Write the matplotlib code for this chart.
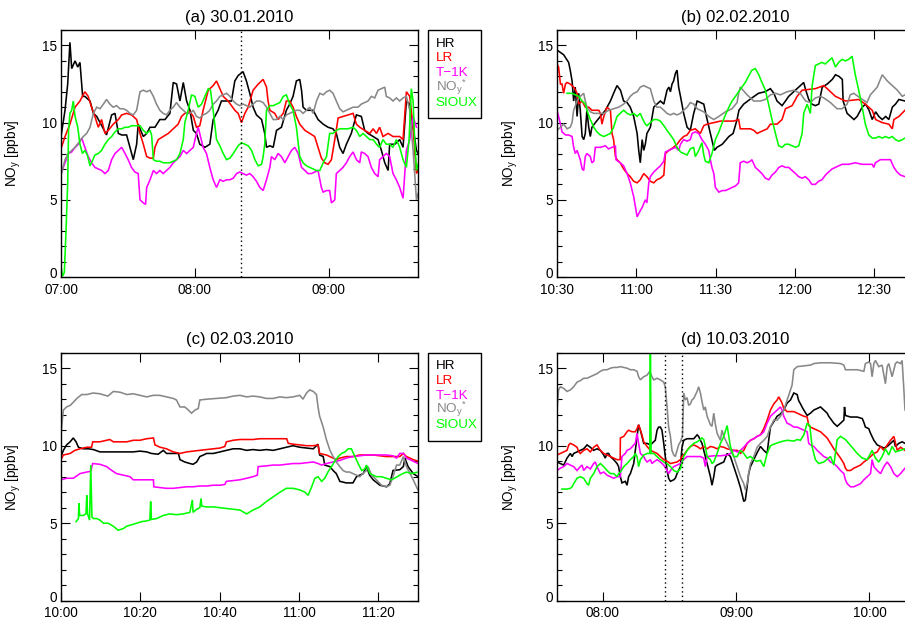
import matplotlib
matplotlib.use('Agg')
import matplotlib.pyplot as plt
from matplotlib.patches import Rectangle
from matplotlib.ticker import MultipleLocator, FuncFormatter
from matplotlib.transforms import ScaledTranslation

plt.rcParams['font.family'] = ['Liberation Sans', 'DejaVu Sans']
plt.rcParams['mathtext.fontset'] = 'custom'
plt.rcParams['mathtext.rm'] = 'Liberation Sans'
plt.rcParams['mathtext.it'] = 'Liberation Sans:italic'

# ---------------- legend / styling data ----------------
SERIES = ['HR', 'LR', 'T−1K', r'NO$_\mathregular{y}$$^\mathregular{*}$', 'SIOUX']
COLORS = ['#000000', '#ff0000', '#ff00ff', '#888888', '#00ff00']
YLABEL = r'NO$_\mathregular{y}$ [ppbv]'

# ---------------- panel (a) 30.01.2010, minutes after 07:00 ----------------
A_TITLE = '(a) 30.01.2010'
A_START = 7 * 60
A_END = 160
A_TICKS = [0, 60, 120]
A_DOTTED = [80.5]
A_HR = [(0, 9.1), (1.8, 10.8), (3, 12.5), (4.0, 15.2), (4.8, 13.5), (6.3, 14.0), (7.5, 13.6), (8.5, 13.9),
        (9.7, 11.7), (10.7, 11.7), (12.2, 11.5), (13, 11.4), (14.5, 10.6), (16, 10.4), (17.5, 10.0), (19, 9.6),
        (20.4, 9.2), (22.7, 10.5), (24.2, 10.6), (24.9, 10.0), (25.7, 9.3), (27.2, 9.2), (29.4, 9.2), (30.9, 8.4),
        (32.4, 7.6), (33.9, 8.6), (34.6, 9.9), (35.4, 9.6), (36.9, 9.1), (38.4, 9.3), (39.9, 9.7), (42.1, 9.7),
        (44.3, 10.2), (46.6, 10.2), (48.8, 10.6), (50.3, 12.6), (51.8, 12.5), (53.3, 11.4), (54.8, 12.6),
        (56.3, 11.4), (57.8, 10.8), (59.3, 9.5), (60.7, 9.3), (62.2, 8.6), (64.5, 8.4), (66.7, 8.6), (68.2, 10.2),
        (70.4, 10.8), (71.9, 11.4), (74.2, 11.4), (76.4, 11.4), (77.9, 12.7), (79.4, 13.05), (81.6, 13.3),
        (83.1, 12.7), (84.6, 11.9), (86.1, 11.0), (87.6, 10.5), (89.9, 10.2), (91.3, 9.3), (92.1, 8.4),
        (93.6, 8.5), (95.1, 8.4), (96.6, 9.5), (98.8, 9.7), (101, 10.8), (102.5, 11.2), (104, 11.7), (105.5, 12.7),
        (107, 12.8), (107.8, 12.1), (108.5, 11.0), (110, 10.8), (113, 10.8), (115.2, 10.2), (117.5, 9.9),
        (119.7, 9.7), (121.9, 9.6), (123.4, 9.3), (124.9, 8.4), (126.4, 8.0), (127.9, 8.6), (130.1, 9.3),
        (132.4, 10.5), (134.6, 10.4), (136.1, 9.5), (137.6, 9.3), (139.9, 9.1), (142.1, 8.9), (143.6, 8.2),
        (145.1, 7.4), (146.6, 6.9), (147.3, 8.6), (149.6, 8.6), (151.8, 8.9), (153.3, 8.4), (154.8, 11.4),
        (156.3, 11.2), (157.8, 9.7), (159.3, 8.2), (160, 8.0)]
A_LR = [(0, 8.3), (1.8, 9.1), (4.0, 9.9), (6.3, 11.0), (8.5, 11.4), (10.7, 12.0), (12.2, 11.7), (13.7, 11.0),
        (15.2, 10.4), (16.7, 9.7), (18.2, 10.2), (19.7, 9.3), (21.2, 9.5), (23.4, 9.9), (25.7, 10.2), (27.2, 10.5),
        (29.4, 10.6), (31.6, 10.5), (33.9, 10.2), (35.4, 9.3), (36.9, 8.6), (38.4, 7.8), (39.9, 7.7), (41.4, 7.7),
        (42.1, 8.4), (43.6, 8.9), (45.8, 9.1), (48.1, 9.3), (50.3, 9.6), (52.5, 9.9), (54.0, 10.4), (55.5, 10.6),
        (57.8, 10.7), (59.3, 10.4), (60.7, 9.7), (62.2, 9.8), (63.7, 10.8), (66, 12.1), (68.2, 12.4), (69.7, 12.7),
        (71.2, 12.2), (72.7, 11.7), (74.9, 11.4), (76.4, 11.1), (77.9, 10.8), (79.4, 10.6), (80.9, 10.0),
        (82.4, 10.6), (83.9, 11.0), (86.1, 12.1), (88.4, 12.5), (90.6, 12.8), (92.1, 12.3), (92.8, 11.4),
        (93.6, 10.8), (95.8, 10.6), (97.3, 10.2), (99.6, 10.6), (101, 11.4), (102.5, 11.4), (104, 11.0),
        (105.5, 10.4), (107, 9.9), (109.3, 9.5), (111.5, 9.3), (113.7, 9.1), (115.2, 8.4), (116.7, 7.7),
        (118.2, 7.4), (119.7, 7.3), (121.2, 7.6), (122.7, 8.9), (124.2, 10.3), (126.4, 10.4), (128.7, 10.5),
        (130.9, 10.6), (132.4, 9.9), (133.9, 9.7), (136.1, 9.5), (138.4, 9.3), (139.9, 9.6), (141.4, 9.3),
        (142.8, 9.7), (144.3, 9.1), (146.6, 9.3), (148.8, 9.1), (151.8, 9.1), (153.3, 8.9), (154.8, 12.0),
        (156.3, 11.7), (157.8, 9.7), (159.3, 6.7), (160, 6.9)]
A_T1K = [(0, 6.7), (1.8, 7.4), (3.3, 8.0), (4.8, 8.1), (6.3, 8.4), (7.8, 8.6), (9.3, 9.0), (10.7, 8.4),
         (12.2, 7.8), (13.7, 7.4), (15.2, 7.1), (16.7, 7.0), (18.2, 6.9), (19.7, 6.7), (21.2, 6.9), (22.7, 7.6),
         (24.2, 8.0), (25.7, 8.2), (27.2, 8.4), (28.7, 8.0), (30.1, 7.6), (31.6, 7.1), (33.1, 6.8), (34.6, 6.7),
         (35.4, 5.0), (36.9, 4.8), (37.9, 4.7), (38.4, 5.8), (39.9, 6.3), (41.4, 6.9), (42.8, 6.7), (44.3, 6.9),
         (45.8, 6.7), (47.3, 6.9), (48.8, 7.1), (50.3, 7.4), (51.8, 7.6), (53.3, 7.8), (54.8, 8.2), (56.3, 8.0),
         (57.8, 8.2), (59.3, 8.4), (60.7, 9.3), (61.5, 9.7), (63.7, 8.4), (65.2, 8.0), (66.7, 7.1), (68.2, 6.3),
         (69.7, 5.8), (71.2, 6.3), (72.7, 6.2), (74.2, 6.3), (75.7, 6.3), (77.2, 6.4), (78.7, 6.7), (80.1, 6.8),
         (81.6, 6.7), (83.1, 6.6), (84.6, 6.7), (86.1, 6.5), (87.6, 6.2), (89.1, 5.8), (90.6, 5.6), (92.1, 6.3),
         (93.6, 7.1), (94.3, 7.8), (95.8, 7.6), (97.3, 8.0), (98.8, 7.8), (100.3, 7.4), (101.8, 7.8), (103.3, 8.2),
         (104.8, 8.4), (106.3, 8.0), (107.8, 7.1), (109.3, 6.9), (110.7, 6.7), (112.2, 6.7), (113.7, 6.8),
         (115.2, 6.9), (116.7, 5.8), (117.5, 5.5), (119, 5.6), (120.4, 5.6), (121.2, 4.8), (122.7, 5.0),
         (123.4, 6.7), (124.9, 6.9), (126.4, 7.1), (127.9, 7.4), (129.4, 7.8), (130.9, 8.1), (132.4, 7.6),
         (133.9, 7.4), (134.6, 8.1), (136.1, 8.0), (137.6, 7.8), (139.1, 7.1), (140.6, 6.7), (142.1, 6.5),
         (142.8, 7.6), (144.3, 7.8), (145.8, 8.0), (147.3, 7.8), (148.8, 6.7), (150.3, 6.3), (151.8, 5.8),
         (153.3, 5.1), (154.8, 8.2), (156.3, 8.9), (157.8, 10.4), (159.3, 9.7)]
A_NOY = [(0, 6.6), (1.8, 7.6), (3.3, 8.0), (4.8, 8.2), (6.3, 8.4), (8.5, 8.8), (10, 9.1), (11.5, 9.3), (13, 9.7),
         (14.5, 10.6), (16, 11.0), (17.5, 10.9), (19, 11.2), (20.4, 11.5), (21.9, 11.2), (23.4, 11.0), (24.9, 11.1),
         (26.4, 10.9), (27.9, 10.9), (29.4, 10.8), (30.9, 10.6), (32.4, 10.5), (33.9, 10.8), (35.4, 12.0),
         (36.9, 12.1), (38.4, 12.0), (39.9, 12.1), (41.4, 11.7), (42.8, 11.2), (44.3, 10.8), (45.8, 10.6),
         (47.3, 10.5), (48.8, 10.8), (50.3, 11.0), (51.8, 11.3), (53.3, 11.0), (54.8, 10.8), (56.3, 10.6),
         (57.8, 10.6), (59.3, 10.8), (60.7, 10.4), (62.2, 10.3), (63.7, 10.5), (65.2, 10.6), (66.7, 10.8),
         (68.2, 11.2), (69.7, 11.4), (71.2, 11.7), (72.7, 11.8), (74.2, 11.9), (75.7, 11.7), (77.2, 11.4),
         (78.7, 11.2), (80.1, 11.1), (81.6, 11.2), (83.1, 11.1), (84.6, 11.0), (86.1, 11.2), (87.6, 11.4),
         (89.1, 11.4), (90.6, 11.3), (92.1, 11.0), (93.6, 10.6), (95.1, 10.2), (96.6, 10.2), (98.1, 10.4),
         (99.6, 10.2), (101, 10.5), (102.5, 10.6), (104, 10.7), (105.5, 10.8), (107, 10.8), (108.5, 10.6),
         (110, 10.8), (111.5, 11.0), (113, 10.6), (114.5, 11.4), (116, 11.9), (117.5, 11.8), (119, 12.0),
         (120.4, 12.1), (121.9, 11.9), (123.4, 11.4), (124.9, 10.9), (126.4, 10.7), (127.9, 10.8), (129.4, 10.9),
         (130.9, 11.0), (133.1, 11.0), (134.6, 11.2), (136.1, 11.3), (137.6, 11.4), (139.1, 11.7), (140.6, 11.6),
         (142.1, 12.1), (143.6, 12.2), (145.1, 12.3), (145.8, 11.7), (147.3, 11.6), (148.8, 11.4), (150.3, 11.6),
         (151.8, 11.4), (153.3, 11.6), (154.8, 11.7), (156.3, 10.8), (157.8, 8.2), (159.3, 5.0), (160, 5.4)]
A_SIOUX = [(0, 0.7), (0.7, 0.05), (1.5, 0.3), (2.2, 2.8), (3.0, 6.1), (3.4, 9.5), (4.0, 10.6), (4.8, 10.8),
           (5.5, 11.4), (6.3, 10.4), (7.5, 9.7), (8.5, 8.6), (9.6, 8.0), (10.7, 8.2), (11.8, 7.9), (13, 7.2),
           (14.0, 7.5), (15.2, 7.9), (16.7, 8.0), (18.2, 8.2), (19.7, 8.6), (21.2, 8.9), (22.7, 9.1), (24.2, 9.4),
           (25.7, 9.6), (27.2, 9.6), (28.7, 9.7), (30.1, 9.7), (31.6, 9.8), (33.9, 9.8), (35.4, 9.8), (36.9, 9.5),
           (38.4, 9.3), (39.9, 9.5), (40.6, 9.2), (41.4, 7.6), (42.8, 7.5), (44.3, 7.5), (45.8, 7.4), (47.3, 7.4),
           (48.8, 7.4), (50.3, 7.5), (51.8, 7.6), (53.3, 8.0), (54.8, 8.9), (55.5, 10.0), (57.0, 10.8),
           (58.5, 11.8), (60.0, 11.7), (61.5, 11.0), (63.0, 11.2), (64.5, 11.7), (66.0, 12.2), (67.0, 12.1),
           (68.2, 10.8), (69.7, 8.9), (71.2, 8.5), (72.7, 8.0), (74.2, 7.6), (75.7, 7.7), (77.2, 8.0), (79.4, 8.5),
           (80.9, 8.7), (82.4, 8.6), (83.9, 8.5), (85.4, 8.2), (86.9, 7.6), (88.4, 7.2), (89.9, 7.3), (90.6, 7.8),
           (91.3, 8.6), (92.1, 10.8), (93.6, 11.1), (95.1, 11.1), (96.6, 11.2), (98.1, 11.3), (99.6, 11.7),
           (101, 11.8), (102.5, 11.2), (104, 10.8), (105.5, 9.7), (107, 7.8), (108.5, 7.4), (110, 7.2),
           (111.5, 7.1), (113, 7.0), (114.5, 6.9), (116, 6.9), (117.5, 7.4), (119, 7.8), (120.4, 9.3), (121.9, 9.3),
           (123.4, 9.5), (124.9, 9.6), (126.4, 9.6), (128.7, 9.6), (130.9, 9.7), (132.4, 9.5), (133.9, 9.1),
           (135.4, 9.3), (136.9, 9.1), (138.4, 8.9), (139.9, 8.9), (141.4, 8.6), (142.8, 8.4), (144.3, 8.9),
           (145.8, 8.6), (147.3, 8.6), (148.8, 8.4), (150.3, 8.9), (151.8, 8.4), (153.3, 7.6), (154.8, 7.1),
           (156.0, 8.9), (157.0, 12.2), (157.8, 11.4), (158.5, 8.9), (159.3, 6.9), (160, 7.3)]

# ---------------- panel (b) 02.02.2010, minutes after 10:30 ----------------
B_TITLE = '(b) 02.02.2010'
B_START = 10 * 60 + 30
B_END = 131.6
B_TICKS = [0, 30, 60, 90, 120]
B_DOTTED = []
B_HR = [(0, 14.7), (2.5, 14.4), (4.4, 13.9), (5, 13.4), (5.7, 12.7), (6.3, 11.4), (6.9, 12.3), (7.6, 10.4),
        (8.2, 11.9), (8.8, 10.8), (9.5, 9.1), (10.1, 8.9), (10.7, 9.3), (11.3, 10.8), (12.0, 9.7), (12.6, 9.1),
        (13.2, 9.7), (14.5, 10.0), (16.4, 10.4), (18.3, 10.8), (20.2, 11.4), (21.4, 11.9), (22.7, 12.4),
        (24.0, 12.1), (25.2, 11.4), (26.5, 11.3), (27.7, 11.0), (29.0, 10.4), (30.3, 9.3), (30.9, 8.2),
        (31.5, 7.4), (32.2, 8.9), (32.8, 8.2), (33.4, 8.6), (34.0, 9.3), (35.3, 9.7), (36.6, 11.0), (37.8, 11.2),
        (39.1, 11.4), (40.4, 11.2), (41.6, 12.1), (42.3, 12.3), (42.9, 12.0), (43.5, 12.5), (44.1, 12.7),
        (44.8, 13.2), (45.4, 13.4), (46.0, 12.3), (46.7, 11.7), (47.9, 10.6), (49.2, 9.7), (50.4, 9.5),
        (51.7, 10.6), (53, 11.4), (55.5, 11.2), (56.5, 10.4), (58, 9.3), (59.5, 8.2), (60.5, 8.4), (62.5, 8.6),
        (65.0, 9.1), (66.6, 9.3), (68.1, 10.2), (68.8, 10.8), (70.6, 11.2), (73.7, 11.6), (76.2, 11.9),
        (78.7, 12.0), (80.7, 12.2), (82.0, 11.9), (83.2, 11.4), (85.1, 11.1), (86.4, 11.4), (87.6, 11.7),
        (89.5, 12.0), (91.4, 12.3), (93.3, 12.6), (93.9, 12.2), (95.2, 11.5), (96.4, 11.2), (97.7, 11.1),
        (99.0, 11.2), (100.3, 12.3), (102.2, 12.5), (104.1, 12.8), (105.3, 13.1), (106.6, 13.0), (107.9, 12.8),
        (108.2, 11.4), (109.7, 10.6), (111.0, 10.4), (112.3, 10.2), (113.5, 10.4), (115.4, 11.0), (116.7, 11.2),
        (118.0, 10.8), (119.2, 10.2), (120.5, 10.7), (121.7, 10.4), (123.0, 10.2), (124.3, 10.4), (125.5, 10.2),
        (126.8, 11.0), (128.0, 11.2), (129.3, 11.5), (131.6, 11.4)]
B_LR = [(0, 13.8), (0.6, 13.6), (1.3, 12.5), (1.9, 12.5), (2.5, 11.9), (3.2, 12.5), (3.8, 12.6), (5.0, 12.5),
        (6.3, 12.3), (7.6, 11.9), (8.2, 11.2), (9.5, 11.4), (10.7, 11.0), (12.0, 11.0), (13.2, 10.8), (14.5, 10.8),
        (15.8, 10.8), (16.4, 10.6), (17.0, 9.9), (17.7, 10.4), (18.9, 11.0), (20.2, 10.8), (20.8, 9.3),
        (21.4, 8.9), (22.1, 7.8), (22.7, 7.6), (23.9, 7.4), (25.2, 7.0), (26.5, 6.7), (27.7, 6.5), (29.0, 6.2),
        (30.3, 6.1), (31.5, 6.3), (32.8, 6.7), (34.0, 6.5), (35.3, 6.2), (36.6, 6.1), (37.8, 6.3), (39.1, 6.4),
        (40.4, 6.6), (41.0, 8.0), (42.3, 8.2), (44.1, 8.4), (45.4, 8.6), (46.7, 8.9), (47.9, 9.1), (49.2, 9.2),
        (50.4, 9.5), (52.3, 9.6), (54.2, 9.3), (55.5, 9.8), (56.7, 9.9), (59.3, 10.0), (61.8, 10.1), (64.3, 10.1),
        (66.8, 10.1), (68.7, 10.2), (69.3, 9.6), (71.2, 9.6), (73.1, 9.6), (74.4, 9.5), (75.7, 9.3), (76.9, 9.4),
        (78.2, 9.5), (79.5, 9.6), (80.7, 9.9), (83.2, 9.9), (85.1, 10.2), (86.4, 10.9), (88.9, 11.1),
        (90.2, 11.5), (90.8, 11.7), (92.7, 12.1), (97.7, 12.2), (100.9, 12.4), (102.8, 12.1), (105.3, 11.7),
        (109.1, 11.4), (114.1, 11.5), (116.6, 11.2), (119.2, 10.8), (120.5, 10.2), (123.0, 10.0), (125.5, 9.9),
        (126.8, 9.6), (127.4, 10.2), (129.3, 10.4), (131.6, 10.8)]
B_T1K = [(0, 10.8), (0.6, 10.4), (1.3, 9.9), (1.9, 9.4), (3.2, 9.2), (4.4, 9.2), (5.7, 9.1), (6.3, 8.4),
         (6.9, 8.0), (7.6, 8.2), (8.8, 7.6), (9.5, 7.0), (10.1, 6.9), (10.7, 7.8), (11.3, 8.0), (12.6, 7.8),
         (13.2, 7.4), (13.9, 7.5), (14.5, 8.4), (16.4, 8.4), (18.3, 8.5), (19.5, 8.3), (20.8, 8.4), (22.1, 8.5),
         (22.3, 7.6), (23.9, 7.4), (25.2, 7.2), (26.5, 6.7), (27.7, 6.1), (29.0, 5.2), (30.3, 3.9), (30.9, 4.1),
         (31.5, 4.3), (32.2, 4.5), (33.4, 5.0), (34.0, 4.8), (34.7, 6.1), (35.3, 6.5), (36.6, 6.8), (37.8, 7.0),
         (39.1, 7.2), (40.4, 7.5), (41.0, 8.1), (42.3, 8.2), (43.5, 8.3), (44.8, 8.4), (46.0, 8.2), (46.7, 8.6),
         (47.9, 8.9), (49.2, 8.8), (50.4, 8.9), (51.1, 9.3), (52.3, 9.4), (53.6, 9.3), (54.8, 8.9), (56.1, 8.6),
         (57.4, 8.2), (58.0, 7.6), (58.6, 7.1), (59.3, 6.7), (59.9, 5.8), (61.2, 5.5), (62.5, 5.6), (63.7, 5.6),
         (65.0, 5.7), (66.2, 5.8), (67.5, 5.9), (68.7, 6.1), (69.3, 7.4), (70.6, 7.5), (71.9, 7.4), (73.1, 7.5),
         (73.7, 7.6), (75.0, 7.1), (76.3, 6.9), (77.5, 6.7), (78.8, 6.4), (80.1, 6.3), (81.3, 6.6), (82.6, 6.8),
         (83.9, 7.1), (85.1, 7.2), (86.4, 7.1), (87.6, 7.1), (88.9, 6.9), (90.2, 6.7), (91.4, 6.5), (92.7, 6.4),
         (93.9, 6.5), (95.2, 6.3), (96.4, 6.0), (97.7, 6.0), (98.9, 6.2), (100.2, 6.3), (101.5, 6.6), (102.7, 6.8),
         (104.0, 7.0), (105.3, 7.1), (106.5, 7.2), (107.8, 7.3), (110.3, 7.3), (112.8, 7.4), (115.4, 7.3),
         (117.9, 7.3), (119.2, 7.3), (119.8, 7.1), (120.4, 7.4), (122.3, 7.6), (124.2, 7.6), (126.1, 7.6),
         (127.4, 7.1), (128.6, 6.8), (129.9, 6.6), (131.6, 6.5)]
B_NOY = [(0, 9.5), (1.3, 9.7), (2.5, 9.9), (3.8, 9.6), (5.0, 9.7), (5.7, 10.0), (6.3, 10.8), (7.6, 11.4),
         (8.8, 11.7), (10.1, 11.9), (10.7, 11.4), (11.3, 11.0), (12.6, 10.7), (13.9, 10.6), (15.8, 10.6),
         (17.7, 10.6), (19.5, 10.8), (21.4, 10.9), (23.3, 11.0), (25.2, 11.2), (26.5, 11.4), (27.7, 11.7),
         (29.0, 11.9), (30.3, 12.0), (31.5, 12.3), (32.8, 12.4), (34.0, 12.3), (35.3, 12.2), (36.6, 11.4),
         (37.8, 11.0), (39.1, 11.0), (40.4, 10.8), (41.6, 10.6), (42.9, 10.5), (44.1, 10.6), (45.4, 10.5),
         (46.7, 10.6), (47.9, 10.8), (49.2, 11.0), (50.4, 11.3), (51.7, 11.2), (53, 10.9), (55.5, 10.7),
         (57.4, 10.4), (59.3, 10.2), (61.2, 10.4), (63.7, 10.7), (66.2, 10.9), (68.1, 11.3), (68.7, 11.9),
         (69.3, 12.3), (71.9, 11.8), (74.4, 11.4), (76.9, 11.4), (78.8, 11.5), (80.7, 11.8), (82.6, 11.9),
         (84.5, 11.8), (87.0, 12.0), (89.5, 12.1), (92.0, 11.9), (94.0, 11.4), (95.8, 11.3), (97.7, 11.6),
         (99.6, 11.7), (100.9, 11.6), (103.4, 11.3), (105.9, 10.9), (107.8, 10.9), (109.7, 11.2), (110.9, 11.8),
         (112.2, 11.9), (114.7, 11.6), (117.2, 11.3), (118.5, 11.8), (121.1, 12.3), (123.0, 13.1), (124.9, 12.7),
         (126.8, 12.4), (128.7, 12.1), (130.6, 11.7), (131.6, 11.8)]
B_SIOUX = [(3.8, 11.9), (5.7, 11.9), (6.9, 11.8), (8.2, 11.7), (9.5, 11.4), (10.7, 11.2), (11.3, 10.8),
           (12.6, 10.2), (13.9, 9.7), (15.1, 9.4), (16.4, 9.2), (17.7, 9.1), (18.9, 9.2), (20.2, 9.3), (21.4, 9.7),
           (22.7, 10.4), (23.9, 10.6), (25.2, 10.8), (26.5, 10.6), (27.7, 10.5), (29.0, 10.6), (30.3, 10.4),
           (30.9, 10.5), (31.5, 10.6), (32.2, 10.3), (33.4, 9.9), (34.0, 9.8), (35.3, 10.0), (36.6, 10.2),
           (37.8, 10.2), (39.1, 10.1), (40.4, 9.8), (41.6, 9.5), (42.9, 9.2), (44.1, 8.9), (45.4, 8.4), (46.7, 8.1),
           (47.9, 8.0), (49.2, 7.9), (50.4, 8.3), (51.7, 8.4), (52.3, 7.8), (53.6, 8.2), (54.8, 8.7), (55.5, 7.9),
           (56.1, 7.5), (57.4, 7.4), (58.6, 8.0), (59.9, 8.9), (61.2, 9.4), (62.5, 10.0), (63.7, 10.5),
           (65.0, 11.0), (66.2, 11.4), (67.5, 11.7), (68.7, 12.0), (69.9, 12.3), (71.2, 12.6), (72.4, 13.0),
           (73.7, 13.4), (75.0, 13.5), (76.3, 13.1), (77.5, 12.6), (78.8, 12.1), (80.0, 11.2), (81.3, 10.2),
           (82.6, 9.3), (83.8, 8.5), (85.1, 8.4), (86.4, 8.6), (87.6, 8.6), (88.9, 8.5), (90.2, 8.4), (91.4, 8.5),
           (92.7, 9.3), (93.3, 10.6), (94.6, 11.2), (95.8, 10.6), (96.5, 12.4), (97.7, 13.7), (98.9, 13.8),
           (100.2, 13.9), (101.5, 13.8), (102.7, 14.0), (104.0, 14.2), (105.3, 13.6), (106.5, 13.9),
           (107.8, 14.1), (109.1, 14.0), (110.3, 14.1), (111.6, 14.3), (112.8, 13.1), (114.1, 12.1),
           (115.4, 11.0), (116.6, 9.9), (117.9, 9.2), (119.2, 9.0), (120.4, 9.0), (121.7, 9.1), (123.0, 9.0),
           (124.2, 9.1), (125.5, 9.0), (126.8, 9.1), (128.0, 8.9), (129.3, 8.8), (130.6, 8.9), (131.6, 9.0)]

# ---------------- panel (c) 02.03.2010, minutes after 10:00 ----------------
C_TITLE = '(c) 02.03.2010'
C_START = 10 * 60
C_END = 90
C_TICKS = [0, 20, 40, 60, 80]
C_DOTTED = []
C_HR = [(0, 9.3), (0.6, 9.7), (1.4, 10.05), (2.3, 10.25), (3.1, 10.5), (3.8, 10.25), (4.4, 9.9), (5.6, 9.8),
        (6.9, 9.8), (8.2, 9.75), (9.8, 9.6), (11.5, 9.6), (13.2, 9.6), (14.9, 9.6), (16.6, 9.6), (18.2, 9.6),
        (19.9, 9.65), (21.6, 9.6), (22.8, 9.5), (24.5, 9.45), (25.8, 9.7), (26.6, 9.5), (28.3, 9.5), (29.6, 9.5),
        (30.0, 9.1), (31.2, 8.95), (32.5, 8.85), (33.3, 8.8), (34.2, 8.95), (35.0, 9.3), (35.9, 9.4), (36.7, 9.5),
        (38.4, 9.5), (40.1, 9.6), (41.7, 9.7), (43.4, 9.8), (45.1, 9.8), (46.8, 9.7), (48.4, 9.75), (50.1, 9.7),
        (51.8, 9.75), (53.5, 9.7), (55.2, 9.8), (56.8, 9.9), (58.5, 10.0), (60.2, 9.9), (61.9, 9.85), (63.6, 9.8),
        (64.8, 10.1), (65.2, 9.4), (66.1, 9.3), (66.5, 8.75), (67.8, 8.65), (68.6, 8.4), (69.4, 8.2), (70.3, 7.7),
        (71.9, 7.6), (73.6, 7.6), (74.5, 8.0), (75.3, 8.1), (76.2, 8.2), (77.0, 8.65), (77.8, 8.1), (78.7, 7.8),
        (80.4, 7.45), (82.1, 7.35), (82.9, 7.55), (83.7, 8.4), (85.4, 8.45), (86.3, 8.65), (86.7, 9.2),
        (87.5, 8.65), (88.8, 8.2), (90, 8.0)]
C_LR = [(0, 9.1), (0.6, 9.4), (2.3, 9.5), (3.5, 9.7), (4.8, 9.8), (6.5, 9.9), (7.7, 9.9), (8.0, 10.25),
        (9.8, 10.25), (11.5, 10.35), (12.3, 10.4), (13.2, 10.25), (14.9, 10.25), (16.6, 10.25), (18.2, 10.35),
        (19.9, 10.35), (21.6, 10.45), (23.3, 10.5), (23.7, 10.05), (25.0, 9.9), (26.6, 9.8), (28.3, 9.6),
        (30.0, 9.5), (31.7, 9.6), (33.3, 9.65), (35.0, 9.7), (36.7, 9.75), (38.4, 9.8), (40.1, 9.85),
        (41.3, 9.95), (41.7, 10.25), (43.4, 10.35), (45.1, 10.4), (46.8, 10.4), (48.4, 10.4), (50.1, 10.45),
        (51.8, 10.45), (53.5, 10.45), (55.2, 10.45), (56.9, 10.45), (57.3, 10.15), (58.5, 10.1), (60.2, 10.05),
        (61.9, 10.0), (63.6, 10.0), (64.8, 10.05), (65.2, 9.5), (66.9, 9.4), (68.6, 9.2), (69.4, 9.1),
        (70.3, 9.2), (71.9, 9.3), (73.6, 9.3), (75.3, 9.4), (77.0, 9.4), (78.7, 9.4), (80.4, 9.35), (82.1, 9.3),
        (83.7, 9.3), (85.4, 9.3), (86.3, 9.5), (87.1, 9.3), (88.8, 9.1), (90, 9.0)]
C_T1K = [(0, 7.8), (1.4, 7.9), (3.1, 7.9), (4.8, 8.2), (6.5, 8.3), (7.5, 8.35), (8.0, 8.85), (9.8, 8.8),
         (11.5, 8.65), (12.8, 8.4), (14.0, 8.2), (15.7, 8.1), (17.4, 8.0), (18.2, 7.8), (19.9, 7.8), (21.6, 7.8),
         (23.3, 7.8), (23.4, 7.35), (24.9, 7.3), (26.6, 7.25), (28.3, 7.25), (30.0, 7.3), (31.7, 7.35),
         (33.3, 7.35), (35.0, 7.4), (36.7, 7.4), (38.4, 7.45), (40.1, 7.45), (41.3, 7.5), (41.7, 7.7),
         (43.4, 7.75), (45.1, 7.8), (46.8, 7.9), (48.4, 8.0), (49.5, 8.1), (49.7, 8.65), (51.8, 8.7),
         (53.5, 8.75), (55.2, 8.75), (56.8, 8.8), (58.5, 8.85), (60.2, 8.85), (61.9, 8.9), (63.6, 8.95),
         (64.8, 8.85), (65.7, 8.75), (66.9, 8.85), (68.6, 8.95), (70.3, 9.05), (71.9, 9.2), (73.6, 9.3),
         (75.3, 9.35), (77.0, 9.4), (78.7, 9.4), (80.4, 9.4), (82.1, 9.4), (83.7, 9.35), (84.6, 9.2), (85.4, 9.5),
         (86.3, 9.5), (87.1, 9.2), (88.8, 9.0), (90, 8.85)]
C_NOY = [(0, 10.8), (0.6, 12.3), (1.4, 12.5), (2.3, 12.6), (3.1, 12.8), (4.0, 13.05), (5.2, 13.3), (6.5, 13.3),
         (8.1, 13.4), (9.8, 13.35), (11.8, 13.2), (13.2, 13.5), (14.9, 13.45), (16.6, 13.3), (18.2, 13.35),
         (19.9, 13.25), (21.6, 13.15), (23.3, 13.25), (24.9, 13.25), (26.6, 13.15), (28.3, 13.05), (29.1, 12.95),
         (30.0, 12.5), (31.2, 12.5), (32.1, 12.3), (32.9, 12.1), (33.8, 12.3), (34.6, 12.4), (35.0, 12.95),
         (36.7, 13.0), (39.2, 13.05), (41.7, 13.1), (43.4, 13.2), (45.1, 13.25), (46.8, 13.15), (48.4, 13.2),
         (50.1, 13.15), (51.8, 13.05), (53.5, 13.05), (55.2, 13.15), (56.8, 13.1), (58.5, 13.15), (60.2, 13.25),
         (61.0, 13.0), (61.9, 13.4), (62.7, 13.6), (63.6, 13.5), (64.4, 13.3), (64.8, 12.5), (65.2, 11.9),
         (66.1, 11.2), (66.9, 10.4), (67.8, 9.7), (68.6, 9.3), (69.4, 8.95), (70.3, 8.65), (71.1, 8.4),
         (71.9, 8.3), (72.8, 8.3), (73.6, 8.2), (74.5, 8.1), (75.3, 8.0), (76.1, 8.2), (77.0, 8.4), (77.4, 8.65),
         (78.3, 8.1), (79.5, 7.8), (80.8, 7.45), (82.0, 7.35), (82.9, 7.45), (83.7, 8.0), (84.6, 8.75),
         (85.4, 8.75), (86.3, 9.3), (87.1, 8.65), (88.0, 8.2), (88.8, 7.8), (89.6, 7.35), (90, 7.15)]
C_SIOUX = [(3.8, 5.1), (4.4, 5.3), (4.5, 6.3), (4.7, 5.5), (5.6, 5.5), (6.3, 5.6), (6.5, 6.8), (6.7, 5.6),
           (7.2, 5.2), (7.5, 8.75), (7.8, 5.4), (8.2, 5.3), (9.0, 5.3), (9.8, 5.2), (10.7, 5.0), (11.9, 5.0),
           (13.2, 4.8), (14.4, 4.55), (15.7, 4.65), (16.5, 4.8), (17.8, 4.9), (19.1, 5.0), (20.3, 5.1),
           (21.6, 5.15), (22.4, 5.2), (22.6, 6.4), (22.8, 5.25), (24.1, 5.3), (25.8, 5.5), (27.4, 5.6),
           (29.1, 5.55), (30.8, 5.6), (32.5, 5.7), (33.1, 6.5), (33.3, 5.7), (34.2, 5.9), (35.0, 6.0), (35.3, 6.6),
           (35.5, 6.1), (36.7, 6.05), (38.4, 6.05), (40.1, 6.0), (41.7, 5.95), (43.4, 5.9), (45.1, 5.85),
           (46.8, 5.6), (48.4, 5.85), (50.1, 6.05), (51.8, 6.4), (53.5, 6.7), (55.2, 7.0), (56.8, 7.25),
           (58.5, 7.25), (60.2, 7.15), (61.5, 7.0), (62.3, 6.8), (63.2, 7.35), (64.0, 7.9), (64.8, 8.0),
           (65.7, 7.7), (66.5, 7.9), (67.4, 8.35), (68.2, 8.65), (69.0, 9.0), (69.9, 9.3), (70.7, 9.5),
           (71.6, 9.6), (72.4, 9.8), (73.2, 9.8), (74.1, 9.3), (74.9, 8.85), (75.8, 8.4), (76.6, 8.5), (77.0, 8.75),
           (77.9, 8.2), (78.7, 8.1), (79.5, 8.0), (80.8, 8.0), (82.0, 7.9), (83.3, 7.8), (84.1, 7.9), (85.4, 8.1),
           (86.2, 8.2), (87.1, 8.3), (88.3, 8.2), (90, 8.3)]

# ---------------- panel (d) 10.03.2010, minutes after 08:00 ----------------
D_TITLE = '(d) 10.03.2010'
D_START = 8 * 60
D_BEGIN = -20.5
D_END = 136.0
D_TICKS = [0, 60, 120]
D_DOTTED = [28.0, 35.8]
D_HR = [(-20.5, 8.95), (-19.0, 8.85), (-17.5, 8.75), (-16.0, 9.2), (-14.5, 9.5), (-13.7, 9.3), (-13.0, 9.5),
        (-11.5, 9.6), (-10.0, 9.7), (-8.5, 9.8), (-7.0, 10.05), (-5.5, 9.9), (-4.0, 9.7), (-2.5, 9.8),
        (-1.0, 9.7), (0.5, 9.4), (1.2, 9.2), (2.0, 9.5), (2.7, 9.5), (3.5, 9.3), (5.0, 9.1), (6.5, 8.85),
        (7.2, 8.65), (8.0, 8.0), (8.7, 7.6), (10.2, 7.7), (11.0, 7.45), (11.7, 8.0), (12.5, 8.2), (14.0, 8.85),
        (15.5, 10.6), (16.2, 11.35), (17.0, 11.0), (17.7, 10.6), (18.5, 10.15), (20.0, 10.15), (21.5, 10.05),
        (23.0, 10.25), (23.7, 10.35), (24.5, 11.0), (25.2, 11.2), (26.0, 11.2), (26.7, 11.0), (27.5, 10.15),
        (28.2, 9.3), (29.0, 8.4), (29.7, 7.9), (30.5, 7.7), (32.0, 7.8), (32.7, 7.9), (33.5, 8.2), (35.0, 8.65),
        (35.7, 9.9), (36.5, 10.35), (38.0, 10.45), (39.5, 10.45), (41.0, 10.45), (42.5, 10.7), (43.2, 10.6),
        (44.0, 10.35), (44.7, 10.15), (45.5, 9.7), (47.0, 8.85), (48.5, 8.0), (49.2, 7.45), (50.0, 8.0),
        (50.7, 8.65), (51.5, 8.75), (53.0, 8.85), (54.5, 8.95), (56.0, 9.5), (57.5, 9.3), (59.0, 8.65),
        (60.5, 8.0), (62.0, 7.3), (63.5, 6.4), (64.2, 6.5), (65.0, 7.35), (65.7, 8.2), (66.5, 8.65), (68.0, 9.1),
        (69.5, 9.55), (71.0, 9.95), (72.5, 9.7), (74.0, 9.5), (74.7, 10.35), (75.5, 11.2), (77.0, 11.55),
        (78.5, 11.9), (80.0, 12.05), (81.5, 12.3), (83.0, 12.75), (84.5, 12.95), (86.0, 13.4), (86.7, 13.35),
        (87.5, 13.3), (88.2, 12.9), (89.0, 12.7), (89.7, 12.5), (90.5, 12.3), (92.0, 11.95), (93.5, 12.1),
        (95.0, 12.3), (96.5, 12.4), (98.0, 12.5), (99.5, 12.3), (101.0, 12.1), (101.7, 11.9), (104.0, 11.45),
        (105.5, 11.25), (107.0, 11.45), (108.5, 11.65), (108.8, 12.5), (109.2, 11.95), (111.5, 11.85),
        (114.5, 11.85), (116.8, 11.75), (117.5, 11.5), (118.2, 11.2), (119.7, 11.1), (120.5, 10.8),
        (122.0, 10.35), (123.5, 10.05), (125.0, 9.95), (126.5, 9.85), (128.0, 9.95), (129.5, 10.15),
        (131.0, 10.35), (131.7, 9.95), (133.2, 10.15), (134.7, 10.25), (136.0, 10.15)]
D_LR = [(-20.5, 9.4), (-19.0, 9.5), (-17.5, 9.6), (-16.0, 9.7), (-15.2, 10.05), (-14.5, 10.15), (-13.0, 10.05),
        (-11.5, 9.9), (-10.7, 9.6), (-10.0, 9.5), (-8.5, 9.7), (-7.0, 9.8), (-5.5, 9.6), (-4.0, 9.9),
        (-2.5, 10.05), (-1.0, 9.7), (0.5, 9.5), (2.0, 9.4), (3.5, 9.3), (5.0, 9.2), (6.5, 9.1), (7.9, 9.1),
        (8.0, 10.5), (9.5, 10.6), (11.0, 10.9), (11.7, 11.0), (13.2, 10.9), (14.7, 10.9), (15.5, 11.1),
        (16.2, 11.35), (17.0, 11.0), (17.7, 10.7), (18.5, 10.25), (20.0, 9.95), (21.5, 9.7), (23.0, 9.6),
        (24.5, 9.5), (26.0, 9.3), (27.5, 9.1), (29.0, 9.0), (30.5, 8.85), (32.0, 8.9), (33.5, 8.95), (35.0, 9.1),
        (35.7, 9.3), (36.5, 9.4), (38.0, 9.7), (39.5, 9.95), (41.0, 10.05), (42.5, 9.95), (44.0, 9.8),
        (45.5, 9.95), (47.0, 9.8), (48.5, 9.95), (50.0, 9.9), (51.5, 9.8), (53.0, 9.95), (54.5, 9.9), (56.0, 9.8),
        (57.5, 9.75), (59.0, 9.7), (60.5, 9.7), (62.0, 9.5), (63.5, 9.7), (65.0, 10.15), (66.5, 10.35),
        (68.0, 10.45), (69.5, 10.6), (71.0, 10.7), (72.5, 11.1), (74.0, 11.65), (75.5, 12.3), (77.0, 12.7),
        (78.5, 12.95), (79.2, 13.15), (80.0, 12.95), (80.7, 12.75), (81.5, 12.4), (83.0, 12.2), (84.5, 12.2),
        (86.0, 12.2), (87.5, 12.1), (89.0, 12.0), (90.5, 11.9), (92.0, 11.85), (92.7, 11.3), (93.5, 11.2),
        (95.0, 11.1), (96.5, 11.0), (98.0, 10.9), (99.5, 10.7), (101.0, 10.5), (102.5, 10.15), (104.0, 9.8),
        (105.5, 9.5), (107.0, 9.2), (108.5, 8.85), (109.2, 8.55), (110.0, 8.4), (111.5, 8.4), (113.0, 8.55),
        (114.5, 8.65), (116.0, 8.75), (117.5, 8.95), (119.0, 9.1), (120.5, 9.3), (122.0, 9.5), (123.5, 9.6),
        (125.0, 9.95), (126.5, 9.7), (128.0, 10.05), (129.5, 10.35), (131.0, 10.6), (132.5, 9.7), (134.0, 9.9),
        (136.0, 9.7)]
D_T1K = [(-20.5, 8.4), (-19.0, 8.55), (-17.5, 8.65), (-16.0, 8.85), (-14.5, 8.75), (-13.0, 8.65), (-11.5, 8.4),
         (-10.0, 8.65), (-9.2, 8.75), (-8.5, 8.4), (-7.0, 8.65), (-5.5, 8.5), (-4.0, 8.85), (-3.3, 8.95),
         (-2.5, 8.65), (-1.0, 8.2), (0.5, 8.3), (2.0, 8.1), (3.5, 8.0), (5.0, 7.9), (6.5, 8.0), (8.0, 8.0),
         (8.7, 9.3), (10.2, 9.5), (11.0, 9.7), (12.5, 9.8), (14.0, 10.05), (14.7, 10.15), (15.5, 10.8),
         (16.2, 10.15), (17.0, 9.5), (18.5, 9.3), (19.2, 9.1), (20.0, 8.95), (21.5, 9.1), (22.2, 8.85),
         (23.0, 8.95), (24.5, 9.1), (26.0, 8.95), (27.5, 8.75), (29.0, 8.4), (29.7, 8.2), (30.5, 8.4),
         (32.0, 8.65), (33.5, 8.75), (35.0, 8.85), (36.5, 9.1), (38.0, 9.3), (41.0, 9.3), (44.0, 9.3),
         (45.5, 9.2), (46.2, 8.65), (47.0, 9.3), (50.0, 9.35), (53.0, 9.35), (56.0, 9.4), (57.5, 9.5),
         (59.0, 9.7), (60.5, 9.6), (62.0, 9.7), (63.5, 9.9), (65.0, 10.15), (66.5, 10.35), (68.0, 10.45),
         (69.5, 10.6), (71.0, 10.7), (72.5, 10.9), (74.0, 11.45), (75.5, 11.9), (77.0, 12.1), (78.5, 12.3),
         (80.0, 12.5), (80.7, 12.3), (81.5, 11.9), (83.0, 11.45), (84.5, 11.35), (86.0, 11.2), (87.5, 11.2),
         (89.0, 11.1), (90.5, 11.0), (92.0, 10.9), (92.7, 10.15), (93.5, 10.05), (95.0, 9.95), (96.5, 9.7),
         (98.0, 9.5), (99.5, 9.3), (101.0, 9.2), (102.5, 8.95), (104.0, 8.85), (105.5, 8.65), (107.0, 8.4),
         (108.5, 8.2), (109.2, 7.8), (110.0, 7.55), (111.5, 7.35), (113.0, 7.35), (114.5, 7.45), (116.0, 7.55),
         (117.5, 7.8), (119.0, 8.0), (120.5, 8.2), (121.2, 9.1), (122.0, 8.65), (123.5, 8.4), (125.0, 8.2),
         (126.5, 8.65), (128.0, 8.95), (129.5, 8.65), (131.0, 8.2), (132.5, 8.0), (134.0, 8.2), (136.0, 8.55)]
D_NOY = [(-20.5, 12.3), (-19.8, 13.6), (-19.0, 13.8), (-17.5, 13.7), (-16.0, 13.5), (-14.5, 13.6), (-13.0, 13.8),
         (-11.5, 14.1), (-10.0, 14.2), (-8.5, 14.35), (-7.0, 14.35), (-5.5, 14.45), (-4.0, 14.55), (-2.5, 14.65),
         (-1.0, 14.8), (0.5, 14.9), (2.0, 14.9), (3.5, 15.0), (5.0, 15.05), (6.5, 15.05), (8.0, 15.1),
         (9.5, 15.05), (11.0, 15.0), (12.5, 14.9), (14.0, 14.9), (15.5, 14.8), (16.2, 14.45), (17.0, 14.25),
         (18.5, 14.45), (20.0, 14.55), (21.2, 14.8), (22.2, 14.45), (23.0, 14.25), (24.5, 14.35), (26.0, 14.25),
         (27.5, 14.1), (28.2, 13.8), (29.0, 12.5), (29.7, 11.2), (30.5, 10.6), (31.2, 9.7), (32.0, 9.4),
         (32.7, 9.3), (33.5, 9.7), (34.2, 10.05), (35.0, 10.25), (35.9, 10.6), (36.5, 13.4), (37.2, 12.95),
         (38.0, 13.1), (38.7, 12.6), (39.5, 12.7), (40.2, 12.95), (41.0, 13.05), (42.5, 13.5), (43.2, 13.8),
         (44.0, 13.4), (44.7, 12.85), (45.5, 12.3), (46.2, 12.5), (47.0, 11.9), (47.7, 11.65), (48.5, 11.35),
         (49.2, 11.25), (50.0, 12.1), (50.7, 11.4), (51.5, 10.8), (53.0, 10.35), (53.7, 11.0), (54.5, 10.6),
         (56.0, 10.15), (57.5, 9.7), (59.0, 9.3), (60.5, 8.65), (62.0, 8.0), (63.5, 7.55), (64.2, 7.15),
         (65.0, 7.55), (65.7, 8.2), (66.5, 8.85), (68.0, 9.3), (69.5, 9.9), (71.0, 10.15), (72.5, 10.35),
         (74.0, 10.6), (75.5, 11.2), (77.0, 11.65), (78.5, 11.65), (80.0, 11.9), (81.5, 12.3), (83.0, 12.95),
         (84.5, 13.6), (85.2, 13.9), (86.0, 14.9), (87.5, 15.1), (90.5, 15.15), (93.5, 15.2), (95.0, 15.3),
         (98.0, 15.35), (102.5, 15.35), (107.0, 15.3), (108.5, 15.2), (109.2, 14.9), (111.5, 14.9),
         (114.5, 14.9), (117.5, 14.8), (118.2, 15.3), (119.7, 15.4), (120.5, 15.3), (121.2, 14.45),
         (122.0, 15.3), (122.7, 15.5), (124.2, 15.1), (125.7, 15.2), (127.2, 14.0), (128.0, 15.1), (128.7, 15.3),
         (130.2, 14.45), (131.7, 15.3), (132.5, 15.4), (134.0, 15.3), (134.7, 15.5), (135.5, 13.6),
         (136.0, 12.3)]
D_SIOUX = [(-18.3, 7.2), (-16.0, 7.2), (-14.5, 7.25), (-13.7, 7.35), (-13.0, 7.55), (-11.5, 7.9), (-10.0, 8.0),
           (-8.5, 7.9), (-7.0, 7.55), (-6.3, 7.45), (-5.5, 7.9), (-4.0, 8.2), (-2.5, 8.65), (-1.0, 8.85),
           (0.5, 8.65), (2.0, 8.4), (2.7, 8.3), (3.5, 8.2), (5.0, 8.2), (6.5, 8.0), (7.2, 8.2), (8.0, 8.3),
           (9.5, 8.65), (11.0, 8.85), (12.5, 9.1), (14.0, 9.3), (14.7, 9.5), (15.5, 9.3), (16.2, 8.65), (17.0, 9.1),
           (18.5, 9.4), (20.0, 9.5), (21.2, 9.5), (21.5, 17.0), (21.8, 9.5), (23.0, 9.5), (24.5, 9.3), (26.0, 9.1),
           (27.5, 8.95), (29.0, 8.85), (30.5, 8.65), (32.0, 8.4), (33.5, 8.3), (35.0, 8.5), (36.5, 9.3),
           (38.0, 9.7), (39.5, 9.95), (41.0, 10.15), (42.5, 10.25), (44.0, 10.4), (44.7, 10.5), (45.5, 10.4),
           (46.2, 9.95), (47.0, 9.3), (48.5, 9.1), (49.2, 8.85), (50.0, 8.95), (51.5, 9.5), (53.0, 10.15),
           (54.5, 10.6), (56.0, 11.3), (57.5, 9.95), (59.0, 9.3), (60.5, 9.3), (62.0, 9.7), (63.5, 9.5),
           (65.0, 9.2), (66.5, 9.3), (69.0, 9.0), (71.0, 9.05), (72.5, 8.65), (74.0, 9.5), (75.5, 10.0),
           (77.0, 10.1), (80.0, 10.25), (83.0, 10.35), (86.0, 10.3), (87.5, 10.4), (89.0, 10.35), (90.5, 10.7),
           (92.0, 11.45), (93.2, 11.3), (94.2, 9.95), (95.7, 9.1), (97.2, 8.85), (99.5, 8.95), (102.5, 9.3),
           (104.0, 8.75), (105.5, 10.4), (107.0, 10.6), (109.2, 10.4), (112.2, 9.9), (114.5, 9.5), (116.8, 9.2),
           (119.0, 9.1), (120.5, 9.5), (121.2, 9.7), (122.7, 9.2), (124.2, 8.95), (125.7, 9.3), (127.2, 9.8),
           (128.7, 9.4), (130.2, 9.95), (131.7, 9.6), (134.0, 9.7), (136.0, 9.8)]

Y_MAX = 16
Y_TICKS = [0, 5, 10, 15]

PANELS = [
    dict(title=A_TITLE, start=A_START, begin=0, end=A_END, ticks=A_TICKS, dotted=A_DOTTED,
         series=[A_HR, A_LR, A_T1K, A_NOY, A_SIOUX], rect=[61, 30, 357, 247], right=True, tx=0.5),
    dict(title=B_TITLE, start=B_START, begin=0, end=B_END, ticks=B_TICKS, dotted=B_DOTTED,
         series=[B_HR, B_LR, B_T1K, B_NOY, B_SIOUX], rect=[557, 30, 348, 247], right=False, tx=0.512),
    dict(title=C_TITLE, start=C_START, begin=0, end=C_END, ticks=C_TICKS, dotted=C_DOTTED,
         series=[C_HR, C_LR, C_T1K, C_NOY, C_SIOUX], rect=[61, 352.7, 357, 248], right=True, tx=0.5),
    dict(title=D_TITLE, start=D_START, begin=D_BEGIN, end=D_END, ticks=D_TICKS, dotted=D_DOTTED,
         series=[D_HR, D_LR, D_T1K, D_NOY, D_SIOUX], rect=[557, 352.7, 348, 248], right=False, tx=0.512),
]

W, H = 905, 620
fig = plt.figure(figsize=(W / 100, H / 100), dpi=100)


def hhmm(x, pos=None):
    m = int(round(x)) % (24 * 60)
    return f'{m // 60:02d}:{m % 60:02d}'


for p in PANELS:
    l, t, w, h = p['rect']
    ax = fig.add_axes([l / W, 1 - (t + h) / H, w / W, h / H])
    s0 = p['start']
    for data, col in zip(p['series'], COLORS):
        xs = [s0 + d[0] for d in data]
        ys = [d[1] for d in data]
        ax.plot(xs, ys, color=col, lw=1.15, solid_joinstyle='miter')
    for dx in p['dotted']:
        ax.axvline(s0 + dx, color='black', lw=1.0, linestyle=(0, (1, 2.2)))
    ax.set_xlim(s0 + p['begin'], s0 + p['end'])
    ax.set_ylim(0, Y_MAX)
    ax.set_xticks([s0 + v for v in p['ticks']])
    ax.xaxis.set_major_formatter(FuncFormatter(hhmm))
    ax.set_yticks(Y_TICKS)
    ax.yaxis.set_minor_locator(MultipleLocator(1))
    ax.tick_params(axis='both', which='both', direction='in', top=True, right=p['right'],
                   labelsize=9.8, width=0.8)
    ax.tick_params(axis='both', which='major', length=6.5)
    ax.tick_params(axis='y', which='minor', length=3.5)
    ax.tick_params(axis='x', which='major', pad=4)
    ax.tick_params(axis='y', which='major', pad=2.8)
    for sp in ax.spines.values():
        sp.set_linewidth(1.0)
    if not p['right']:
        ax.spines['right'].set_visible(False)
    ax.set_title(p['title'], fontsize=12, pad=6, x=p['tx'])
    ax.set_ylabel(YLABEL, fontsize=9.8)
    ax.yaxis.set_label_coords(-37.5 / w, 0.5)
    # raise the "0" label slightly, as in the original
    t0 = ax.yaxis.get_major_ticks()[0]
    t0.label1.set_transform(t0.label1.get_transform() +
                            ScaledTranslation(0, 4 / 100, fig.dpi_scale_trans))

# legends (coloured text in a box), one per row
for top in (30.0, 352.5):
    fig.add_artist(Rectangle((428.3 / W, 1 - (top + 88) / H), 52.4 / W, 88 / H,
                             transform=fig.transFigure, fill=False, edgecolor='black', lw=1.0))
    for i, (lab, col) in enumerate(zip(SERIES, COLORS)):
        fig.text(435.7 / W, 1 - (top + 16.7 + 14.7 * i) / H, lab, color=col, fontsize=9.7,
                 ha='left', va='baseline')

fig.savefig('out.png', dpi=100)
